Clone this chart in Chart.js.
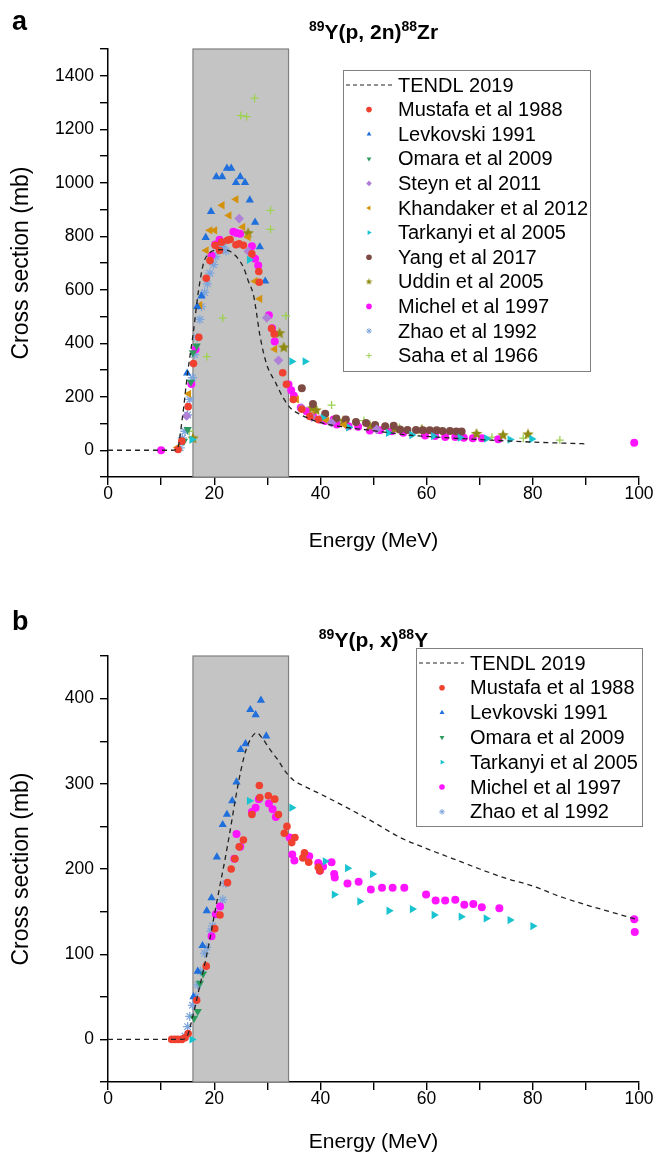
<!DOCTYPE html>
<html><head><meta charset="utf-8">
<script src="https://cdn.jsdelivr.net/npm/chart.js@4.4.1/dist/chart.umd.min.js"></script>
<style>
body{margin:0;background:#fff;width:656px;height:1156px;position:relative;overflow:hidden;font-family:"Liberation Sans",Arial,sans-serif;color:#000}
canvas{position:absolute;left:0}
.letter{position:absolute;left:12px;font-weight:bold;font-size:27px;line-height:27px;z-index:2}
.ttl{position:absolute;left:108px;width:531px;text-align:center;font-weight:bold;font-size:21px;line-height:21px;white-space:nowrap;z-index:2}
.ttl .s{font-size:14px;position:relative;top:-8px}
</style></head><body>
<canvas id="ca" width="656" height="560" style="top:0"></canvas>
<canvas id="cb" width="656" height="576" style="top:580px"></canvas>
<div class="letter" style="top:8px">a</div>
<div class="ttl" style="top:21px"><span class="s">89</span>Y(p, 2n)<span class="s">88</span>Zr</div>
<div class="letter" style="top:608px">b</div>
<div class="ttl" style="top:629px"><span class="s">89</span>Y(p, x)<span class="s">88</span>Y</div>
<script>
// ---------- data (Energy MeV, cross section mb) ----------
const energyRange = [0, 100];
const shadedRange = [16, 34];
const xTickLabels = [0, 20, 40, 60, 80, 100];
const yTickLabelsA = [0, 200, 400, 600, 800, 1000, 1200, 1400];
const yTickLabelsB = [0, 100, 200, 300, 400];
const yRangeA = [-100, 1500];
const yRangeB = [-50, 450];

const tendlA = [[0,0],[6,0],[12,0],[13,2],[14,120],[15,290],[16,430],[17,590],[18,700],[19,735],[20,747],[21.7,750],[23.6,735],[25.5,684],[26.4,634],[27.4,580],[28,509],[28.6,430],[29.9,320],[31.5,255],[33,196],[34.5,155],[36,136],[38,117],[40,103],[44,88],[48,78],[52,68],[57,56],[62,49],[66,44],[71,39],[76,34],[82,29],[90,24]];
const mustafaA = [[13.2,3],[13.9,34],[15.1,163],[16.1,324],[17.1,422],[18.5,643],[19.2,709],[20.2,766],[21.0,747],[21.4,778],[22.5,785],[23.0,788],[24.1,768],[24.7,772],[25.5,766],[27.1,734],[28.4,668],[28.5,628],[30.8,455],[31.3,435],[32.9,290],[33.6,247],[34.9,190],[36.5,153],[38.0,126],[39.6,115]];
const levkovskiA = [[14.9,288],[16.8,537],[17.6,576],[18.4,795],[19.4,892],[20.4,1022],[21.5,1022],[22.4,1054],[23.2,1054],[24.1,1001],[24.9,1022],[25.8,1001],[26.7,935],[27.7,852],[28.6,760],[29.6,632]];
const omaraA = [[14.3,34],[15.0,78],[15.6,255],[16.0,365],[16.7,390]];
const steynA = [[14.8,128],[24.7,866],[26.4,744],[29.9,495],[32.1,336],[36.5,158],[38.4,124],[42.1,103],[50.6,78]];
const khandakerA = [[13.1,10],[15.2,211],[17.3,542],[18.5,747],[19.2,822],[20.1,822],[21.5,916],[22.8,878],[24.1,938],[25.4,835],[26.4,797],[27.7,632],[28.6,566],[31.4,378],[35.5,190],[38.4,134],[41.2,111],[44.5,95]];
const tarkanyiA = [[15.8,40],[26.6,712],[34.6,332],[37.1,332],[40.5,120],[45.3,86],[52.8,65],[57.2,57],[61.3,53],[66.3,47],[71.3,44],[75.7,40],[79.8,42]];
const yangA = [[36.5,232],[38.6,173],[40.9,136],[43.0,119],[44.8,115],[46.7,106],[48.6,102],[50.3,94],[52.2,90],[53.8,92],[55.0,78],[56.4,76],[58.0,76],[59.3,75],[60.6,75],[61.9,75],[63.0,72],[64.4,72],[65.6,70],[66.6,70]];
const uddinA = [[16.0,44],[26.4,811],[32.3,437],[33.1,384],[38.5,157],[39.2,149],[44.3,109],[49.3,90],[54.0,80],[59.1,77],[69.4,61],[74.4,56],[79.1,59]];
const michelA = [[10.0,0],[15.7,248],[16.5,378],[19.5,728],[20.2,769],[21.0,787],[23.6,817],[24.2,812],[24.9,809],[27.1,763],[27.7,716],[28.3,691],[30.3,505],[30.9,456],[31.4,407],[34.0,246],[34.5,224],[35.0,204],[36.3,159],[37.4,146],[38.6,128],[39.8,115],[40.9,109],[42.5,115],[43.1,96],[45.3,90],[47.1,88],[49.3,74],[51.2,75],[53.4,71],[55.6,65],[59.7,55],[61.6,53],[63.5,50],[65.4,50],[67.0,47],[68.7,45],[70.4,45],[73.5,41],[99.1,28]];
const zhaoA = [[13.6,9],[14.0,46],[14.5,71],[15.0,132],[15.4,190],[15.9,271],[16.3,358],[16.8,422],[17.3,489],[17.6,537],[18.2,590],[18.7,622],[19.2,662],[19.9,694],[20.3,724],[21.0,759],[21.1,750],[21.7,760],[22.2,745]];
const sahaA = [[15.3,71],[18.6,350],[21.6,494],[25.0,1251],[26.1,1247],[27.6,1316],[30.6,897],[30.6,826],[33.5,503],[42.1,169],[48.2,111],[54.9,85],[72.3,49],[78.2,45],[85.1,38]];

const tendlB = [[0,0],[7,0],[14,0],[15,5],[16,28],[17,55],[18,82],[19,112],[20,145],[21,178],[22,210],[23,245],[24,282],[25,315],[26,340],[27,354],[28,360],[29,354],[30,345],[31,336],[32,328],[33,318],[34,310],[35,304],[37,297],[40,288],[45,272],[50,255],[55,237],[60,224],[65,212],[70,200],[75,189],[80,180],[85,168],[90,158],[95,149],[100,140]];
const mustafaB = [[12.0,0],[12.6,0],[13.2,0],[13.9,0],[14.5,2],[15.1,7],[16.7,46],[18.5,86],[20.1,130],[21.1,146],[22.5,184],[23.2,200],[23.9,212],[24.7,226],[25.5,234],[27.1,264],[28.5,298],[28.6,284],[30.2,286],[31.4,282],[32.1,264],[33.2,242],[33.7,250],[34.6,231],[35.2,237],[36.7,213],[37.0,219],[37.8,208],[39.6,202],[39.9,198]];
const levkovskiB = [[16.1,50],[16.9,80],[17.8,110],[18.6,151],[19.5,166],[20.5,214],[21.6,252],[22.4,264],[23.4,280],[24.2,302],[25.0,340],[25.9,347],[26.8,387],[27.8,381],[28.8,398],[29.8,356]];
const omaraB = [[16.2,25],[16.9,33],[17.3,66],[17.9,77]];
const tarkanyiB = [[15.8,0],[26.6,280],[34.6,272],[40.9,209],[42.6,170],[45.1,201],[47.4,162],[49.8,194],[52.9,151],[57.3,153],[61.4,146],[66.5,144],[71.2,142],[75.7,140],[80.0,133]];
const michelB = [[19.5,121],[20.3,147],[21.1,156],[23.8,212],[24.9,226],[24.2,241],[27.1,267],[27.8,272],[28.4,282],[30.3,277],[31.0,270],[31.6,261],[34.2,237],[34.7,217],[35.1,210],[37.1,217],[37.4,215],[37.9,215],[39.6,207],[39.9,198],[40.5,203],[42.1,208],[42.6,194],[42.7,190],[45.1,183],[47.2,185],[49.5,176],[51.6,178],[53.6,178],[55.8,178],[59.9,170],[61.7,163],[63.5,163],[65.4,164],[67.1,158],[68.8,159],[70.4,155],[73.7,154],[99.1,141],[99.2,126]];
const zhaoB = [[14.5,4],[15.0,15],[15.4,27],[15.9,40],[16.5,50],[16.9,64],[17.4,80],[18.2,101],[18.6,108],[19.4,127],[19.7,133],[21.6,164],[22.2,183]];

// ---------- styles ----------
const FONT = '"Liberation Sans", Arial, sans-serif';
function starCanvas(size, color){
  const c = document.createElement('canvas'); c.width = size; c.height = size;
  const g = c.getContext('2d'); g.fillStyle = color; g.beginPath();
  const r = size/2, ri = r*0.45;
  for(let i=0;i<10;i++){ const a = -Math.PI/2 + i*Math.PI/5; const rr = i%2? ri : r;
    g.lineTo(r + rr*Math.cos(a), r + rr*Math.sin(a)); }
  g.closePath(); g.fill(); return c;
}
const STY = {
  tendl:{color:'#222'},
  mustafa:{color:'#f0402f', style:'circle', r:3.8, rot:0},
  levkovski:{color:'#1f6fdc', style:'triangle', r:4.8, rot:0},
  omara:{color:'#2e9b5e', style:'triangle', r:4.8, rot:180},
  steyn:{color:'#b07fd8', style:'rectRot', r:4.8, rot:0},
  khandaker:{color:'#d4920c', style:'triangle', r:4.8, rot:-90},
  tarkanyi:{color:'#19c3cf', style:'triangle', r:4.8, rot:90},
  yang:{color:'#7d4b44', style:'circle', r:4, rot:0},
  uddin:{color:'#8f8a10', style:starCanvas(12,'#8f8a10'), legendStyle:starCanvas(7,'#8f8a10'), r:5, rot:0},
  michel:{color:'#ff14ff', style:'circle', r:4, rot:0},
  zhao:{color:'#7ea6dc', style:'star', r:4.6, rot:0, line:true},
  saha:{color:'#9dd150', style:'cross', r:4, rot:0, line:true}
};
const pts = arr => arr.map(p => ({x:p[0], y:p[1]}));
function lineDs(label, arr){
  return {label, data:pts(arr), showLine:true, borderColor:STY.tendl.color, borderWidth:1.3,
    borderDash:[5,4], pointRadius:0, cubicInterpolationMode:'monotone', fill:false, order:0};
}
function ptDs(label, arr, key){
  const s = STY[key];
  return {label, data:pts(arr), showLine:false, pointStyle:s.style, legendStyle:s.legendStyle||s.style,
    pointRadius:s.r, pointRotation:s.rot, backgroundColor:s.color, borderColor:s.color,
    borderWidth:s.line?1.3:0, pointBorderWidth:s.line?1.3:0, order:1};
}

// ---------- plugins ----------
const shadePlugin = {
  id:'shade',
  beforeDatasetsDraw(chart, args, opts){
    const ctx = chart.ctx, ca = chart.chartArea, xs = chart.scales.x;
    const x0 = xs.getPixelForValue(opts.range[0]), x1 = xs.getPixelForValue(opts.range[1]);
    ctx.save();
    ctx.fillStyle = '#c4c4c4'; ctx.fillRect(x0, ca.top, x1-x0, ca.bottom-ca.top);
    ctx.strokeStyle = '#808080'; ctx.lineWidth = 1.2;
    ctx.strokeRect(x0, ca.top, x1-x0, ca.bottom-ca.top);
    ctx.restore();
  }
};
const boxLegend = {
  id:'boxLegend',
  afterDraw(chart, args, o){
    const ctx = chart.ctx, ca = chart.chartArea;
    const left = ca.right - o.right, top = ca.top + o.top;
    ctx.save();
    ctx.fillStyle = '#fff'; ctx.fillRect(left, top, o.width, o.height);
    ctx.strokeStyle = '#808080'; ctx.lineWidth = 1; ctx.strokeRect(left+0.5, top+0.5, o.width, o.height);
    ctx.font = '20px ' + FONT; ctx.textBaseline = 'middle'; ctx.textAlign = 'left';
    chart.data.datasets.forEach((ds, i) => {
      const y = top + o.first + i*o.step;
      if (ds.showLine){
        ctx.save(); ctx.strokeStyle = ds.borderColor; ctx.lineWidth = 1.2; ctx.setLineDash([4,3]);
        ctx.beginPath(); ctx.moveTo(left + o.lineX0, y); ctx.lineTo(left + o.lineX1, y); ctx.stroke(); ctx.restore();
      } else {
        ctx.save(); ctx.fillStyle = ds.backgroundColor; ctx.strokeStyle = ds.borderColor; ctx.lineWidth = 1;
        Chart.helpers.drawPoint(ctx, {pointStyle: ds.legendStyle, rotation: ds.pointRotation,
          radius: 2.8, borderWidth: ds.borderWidth ? 1 : 0}, left + o.markerX, y);
        ctx.restore();
      }
      ctx.fillStyle = '#000'; ctx.fillText(ds.label, left + o.textX, y + 1);
    });
    ctx.restore();
  }
};

function axisOptions(cfg){
  const tickFont = {size:17.5, family:FONT};
  return {
    responsive:false, animation:false, events:[],
    layout:{padding:{left:0, right:17, top:cfg.padTop, bottom:0}},
    plugins:{legend:{display:false}, tooltip:{enabled:false}, shade:{range:shadedRange}, boxLegend:cfg.legend},
    scales:{
      x:{type:'linear', min:energyRange[0], max:energyRange[1],
        afterFit(s){ s.height = cfg.xHeight; },
        border:{display:true, color:'#000', width:1.5},
        grid:{display:true, drawOnChartArea:false, drawTicks:true, tickLength:8, color:'#000', lineWidth:1.4},
        ticks:{stepSize:10, autoSkip:false, maxRotation:0, padding:-1, color:'#000', font:tickFont,
          callback:v => xTickLabels.includes(v) ? String(v) : ''},
        title:{display:true, text:'Energy (MeV)', color:'#000', font:{size:21, family:FONT}, padding:{top:0, bottom:cfg.xTitlePad}}},
      y:{type:'linear', min:cfg.yRange[0], max:cfg.yRange[1],
        afterFit(s){ s.width = 108; },
        border:{display:true, color:'#000', width:1.5},
        grid:{display:true, drawOnChartArea:false, drawTicks:true, tickLength:8, color:'#000', lineWidth:1.4},
        ticks:{stepSize:cfg.yStep, autoSkip:false, padding:6, color:'#000', font:tickFont,
          callback:v => cfg.yLabels.includes(v) ? String(v) : ''},
        title:{display:true, text:'Cross section (mb)', color:'#000', font:{size:23, family:FONT}, padding:{top:8, bottom:0}}}
    }
  };
}

new Chart(document.getElementById('ca'), {
  type:'scatter',
  data:{datasets:[
    lineDs('TENDL 2019', tendlA),
    ptDs('Mustafa et al 1988', mustafaA, 'mustafa'),
    ptDs('Levkovski 1991', levkovskiA, 'levkovski'),
    ptDs('Omara et al 2009', omaraA, 'omara'),
    ptDs('Steyn et al 2011', steynA, 'steyn'),
    ptDs('Khandaker et al 2012', khandakerA, 'khandaker'),
    ptDs('Tarkanyi et al 2005', tarkanyiA, 'tarkanyi'),
    ptDs('Yang et al 2017', yangA, 'yang'),
    ptDs('Uddin et al 2005', uddinA, 'uddin'),
    ptDs('Michel et al 1997', michelA, 'michel'),
    ptDs('Zhao et al 1992', zhaoA, 'zhao'),
    ptDs('Saha et al 1966', sahaA, 'saha')
  ]},
  options:axisOptions({padTop:49, xHeight:83, xTitlePad:6, yRange:yRangeA, yStep:100, yLabels:yTickLabelsA,
    legend:{right:296, top:21, width:247, height:301, first:15, step:24.6, markerX:26, textX:55, lineX0:3, lineX1:49}}),
  plugins:[shadePlugin, boxLegend]
});

new Chart(document.getElementById('cb'), {
  type:'scatter',
  data:{datasets:[
    lineDs('TENDL 2019', tendlB),
    ptDs('Mustafa et al 1988', mustafaB, 'mustafa'),
    ptDs('Levkovski 1991', levkovskiB, 'levkovski'),
    ptDs('Omara et al 2009', omaraB, 'omara'),
    ptDs('Tarkanyi et al 2005', tarkanyiB, 'tarkanyi'),
    ptDs('Michel et al 1997', michelB, 'michel'),
    ptDs('Zhao et al 1992', zhaoB, 'zhao')
  ]},
  options:axisOptions({padTop:76, xHeight:74, xTitlePad:1, yRange:yRangeB, yStep:50, yLabels:yTickLabelsB,
    legend:{right:223, top:-8, width:226, height:178, first:15, step:24.8, markerX:26, textX:54, lineX0:3, lineX1:48}}),
  plugins:[shadePlugin, boxLegend]
});
</script>
</body></html>
